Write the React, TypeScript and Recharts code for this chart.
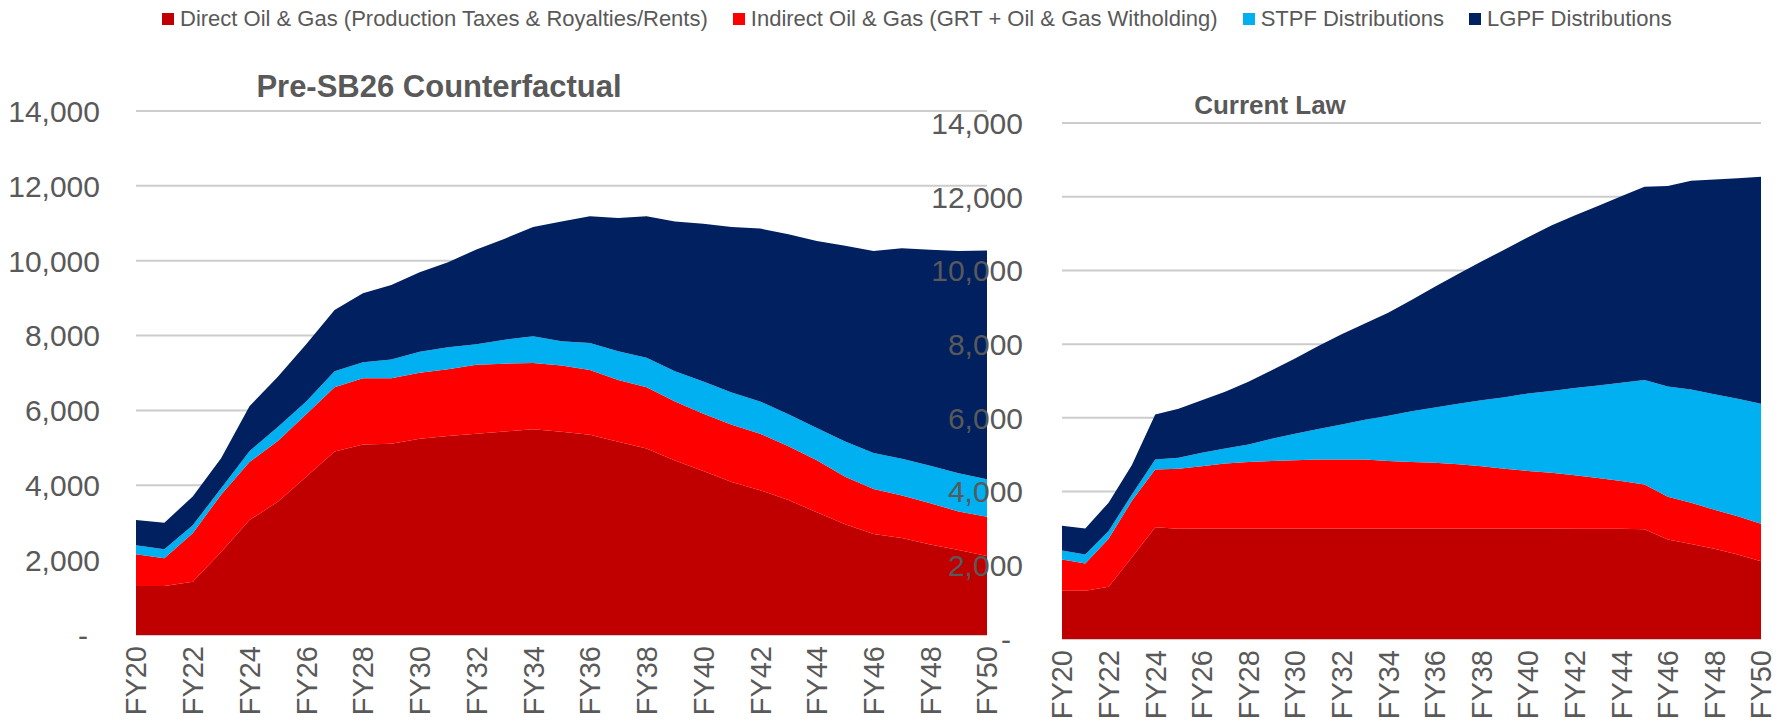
import React from "react";
import { AreaChart, Area, XAxis, YAxis, CartesianGrid } from "recharts";

// fiscal years on the x axis
const years = [
  "FY20", "FY21", "FY22", "FY23", "FY24", "FY25", "FY26", "FY27", "FY28", "FY29",
  "FY30", "FY31", "FY32", "FY33", "FY34", "FY35", "FY36", "FY37", "FY38", "FY39",
  "FY40", "FY41", "FY42", "FY43", "FY44", "FY45", "FY46", "FY47", "FY48", "FY49", "FY50",
];

const yTicks = [0, 2000, 4000, 6000, 8000, 10000, 12000, 14000];

// Pre-SB26 counterfactual ($M)
const preDirect = [
  1310, 1310, 1420, 2220, 3070, 3560, 4230, 4900, 5090, 5110,
  5240, 5320, 5380, 5440, 5500, 5430, 5350, 5160, 4980, 4660,
  4380, 4090, 3870, 3610, 3280, 2960, 2700, 2590, 2420, 2270, 2110,
];
const preIndirect = [
  850, 740, 1300, 1530, 1550, 1620, 1670, 1720, 1770, 1750,
  1770, 1780, 1840, 1810, 1770, 1770, 1730, 1650, 1640, 1580,
  1530, 1530, 1510, 1430, 1390, 1270, 1200, 1140, 1100, 1030, 1050,
];
const preStpf = [
  240, 240, 210, 170, 290, 380, 340, 430, 430, 500,
  560, 590, 550, 640, 710, 650, 720, 770, 790, 810,
  860, 860, 860, 860, 860, 940, 960, 980, 1000, 1020, 1000,
];
const preLgpf = [
  670, 710, 770, 800, 1200, 1340, 1530, 1630, 1840, 1990,
  2120, 2270, 2530, 2700, 2920, 3200, 3390, 3560, 3780, 4000,
  4220, 4420, 4620, 4810, 5000, 5230, 5400, 5620, 5770, 5940, 6110,
];

// Current law ($M)
const curDirect = [
  1310, 1310, 1420, 2220, 3030, 2990, 3000, 3000, 3000, 3000,
  3000, 3000, 3000, 3000, 3000, 3000, 3000, 3000, 3000, 3000,
  3000, 3000, 2990, 2990, 2990, 2980, 2700, 2580, 2450, 2290, 2110,
];
const curIndirect = [
  850, 740, 1300, 1530, 1570, 1630, 1690, 1760, 1800, 1830,
  1850, 1870, 1870, 1870, 1830, 1800, 1780, 1740, 1690, 1620,
  1560, 1510, 1450, 1380, 1300, 1210, 1160, 1120, 1060, 1040, 1020,
];
const curStpf = [
  240, 240, 210, 170, 270, 300, 360, 410, 480, 600,
  720, 830, 950, 1080, 1230, 1380, 1500, 1640, 1790, 1940,
  2100, 2220, 2370, 2510, 2660, 2840, 2990, 3070, 3130, 3190, 3250,
];
const curLgpf = [
  670, 710, 770, 800, 1220, 1330, 1430, 1540, 1700, 1860,
  2040, 2250, 2450, 2610, 2790, 3020, 3280, 3520, 3760, 4010,
  4240, 4490, 4680, 4870, 5060, 5240, 5440, 5660, 5830, 5980, 6160,
];

const seriesNames = [
  "Direct Oil & Gas (Production Taxes & Royalties/Rents)",
  "Indirect Oil & Gas (GRT + Oil & Gas Witholding)",
  "STPF Distributions",
  "LGPF Distributions",
];
const seriesKeys = ["direct", "indirect", "stpf", "lgpf"];
const seriesColors = ["#C00000", "#FF0000", "#00B0F0", "#002060"];

const TEXT = "#595959";
const FONT = "'Liberation Sans', Arial, sans-serif";

function buildRows(cols: number[][]) {
  return years.map((year, i) => {
    const row: any = { year };
    seriesKeys.forEach((k, j) => (row[k] = cols[j][i]));
    return row;
  });
}

const preRows = buildRows([preDirect, preIndirect, preStpf, preLgpf]);
const curRows = buildRows([curDirect, curIndirect, curStpf, curLgpf]);

const YTick = (props: any) => {
  const { x, y, payload } = props;
  const v = payload.value;
  return (
    <text
      x={v === 0 ? x - 12 : x}
      y={y}
      dy="0.36em"
      textAnchor="end"
      fill={TEXT}
      fontSize={30}
      fontFamily={FONT}
    >
      {v === 0 ? "-" : v.toLocaleString("en-US")}
    </text>
  );
};

const XTick = (props: any) => {
  const { x, y, payload } = props;
  return (
    <text
      transform={`translate(${x},${y}) rotate(-90)`}
      dy="0.36em"
      textAnchor="end"
      fill={TEXT}
      fontSize={29}
      fontFamily={FONT}
    >
      {payload.value}
    </text>
  );
};

interface PanelProps {
  rows: any[];
  left: number;
  width: number;
  top: number;
  right: number;
  axisWidth: number;
  axisHeight: number;
  labelGap: number;
}

function Panel({ rows, left, width, top, right, axisWidth, axisHeight, labelGap }: PanelProps) {
  return (
    <div style={{ position: "absolute", left, top: 0 }}>
      <AreaChart
        width={width}
        height={725}
        data={rows}
        margin={{ top, right, bottom: 0, left: 0 }}
      >
        <CartesianGrid vertical={false} stroke="#cccccc" strokeWidth={2} />
        <XAxis
          dataKey="year"
          interval={1}
          axisLine={false}
          tickLine={false}
          tickSize={0}
          tickMargin={11}
          height={axisHeight}
          tick={<XTick />}
        />
        <YAxis
          domain={[0, 14000]}
          ticks={yTicks}
          axisLine={false}
          tickLine={false}
          tickSize={0}
          tickMargin={labelGap}
          width={axisWidth}
          tick={<YTick />}
        />
        {seriesKeys.map((k, i) => (
          <Area
            key={k}
            type="linear"
            dataKey={k}
            name={seriesNames[i]}
            stackId="1"
            stroke="none"
            fill={seriesColors[i]}
            fillOpacity={1}
            isAnimationActive={false}
          />
        ))}
      </AreaChart>
    </div>
  );
}

export default function App() {
  return (
    <div
      style={{
        position: "absolute",
        left: 0,
        top: 0,
        width: 1783,
        height: 725,
        background: "#fff",
        overflow: "hidden",
      }}
    >
      {/* shared legend across both panels */}
      <div
        style={{
          position: "absolute",
          top: 6,
          left: 162,
          display: "flex",
          fontFamily: FONT,
          fontSize: 22,
          lineHeight: "25px",
          color: TEXT,
          whiteSpace: "nowrap",
        }}
      >
        {seriesNames.map((n, i) => (
          <div key={n} style={{ display: "flex", alignItems: "center", marginRight: 25 }}>
            <span
              style={{
                display: "inline-block",
                width: 12,
                height: 12,
                background: seriesColors[i],
                marginRight: 6,
              }}
            />
            <span>{n}</span>
          </div>
        ))}
      </div>

      <Panel rows={preRows} left={0} width={1030} top={111} right={43} axisWidth={136} axisHeight={90} labelGap={36} />
      <Panel rows={curRows} left={880} width={903} top={123} right={22} axisWidth={182} axisHeight={86} labelGap={39} />

      <div
        style={{
          position: "absolute",
          left: 239,
          width: 400,
          top: 69,
          textAlign: "center",
          fontFamily: FONT,
          fontWeight: "bold",
          fontSize: 31,
          color: TEXT,
        }}
      >
        Pre-SB26 Counterfactual
      </div>
      <div
        style={{
          position: "absolute",
          left: 1070,
          width: 400,
          top: 90,
          textAlign: "center",
          fontFamily: FONT,
          fontWeight: "bold",
          fontSize: 26,
          color: TEXT,
        }}
      >
        Current Law
      </div>
    </div>
  );
}
